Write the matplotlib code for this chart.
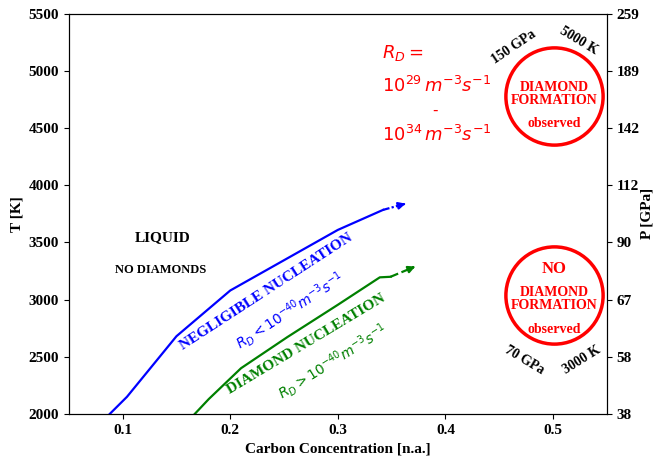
import matplotlib.pyplot as plt
import numpy as np

plt.rcParams['font.family'] = 'Liberation Serif'
plt.rcParams['mathtext.fontset'] = 'dejavusans'

# boundary curves
x_blue = [0.088, 0.104, 0.150, 0.200, 0.250, 0.300, 0.342]
t_blue = [2000, 2150, 2680, 3080, 3345, 3610, 3785]
x_green = [0.167, 0.180, 0.210, 0.253, 0.300, 0.339, 0.349]
t_green = [2000, 2130, 2400, 2672, 2955, 3195, 3200]

# extrapolation arrows (start -> end)
arrow_blue = [(0.342, 3785), (0.363, 3840)]
arrow_green = [(0.349, 3200), (0.372, 3290)]

# right axis (pressure) labels
t_ticks = [2000, 2500, 3000, 3500, 4000, 4500, 5000, 5500]
p_labels = ['38', '58', '67', '90', '112', '142', '189', '259']

# circles
circle_x = [0.501, 0.501]
circle_t = [4782, 3041]

fig = plt.figure(figsize=(6.56, 4.62), dpi=100)
ax = fig.add_axes([0.105, 0.104, 0.82, 0.866])

ax.plot(x_blue, t_blue, color='blue', lw=1.6)
ax.plot(x_green, t_green, color='green', lw=1.6)

for arr, col, ls in [(arrow_blue, 'blue', (0, (3, 1, 1, 1))), (arrow_green, 'green', '--')]:
    (x0, y0), (x1, y1) = arr
    ax.plot([x0, x0 + 0.85 * (x1 - x0)], [y0, y0 + 0.85 * (y1 - y0)], color=col, lw=1.6, ls=ls)
    ax.annotate('', xy=(x1, y1), xytext=(x0 + 0.8 * (x1 - x0), y0 + 0.8 * (y1 - y0)),
                arrowprops=dict(arrowstyle='-|>', color=col, lw=1.6, mutation_scale=10))

ax.plot(circle_x, circle_t, 'o', ms=70, mfc='none', mec='red', mew=2.5)

ax.set_xlim(0.05, 0.55)
ax.set_ylim(2000, 5500)
ax.set_xticks([0.1, 0.2, 0.3, 0.4, 0.5])
ax.set_yticks(t_ticks)
ax.tick_params(labelsize=11, direction='out')
ax.set_xlabel('Carbon Concentration [n.a.]', fontsize=11, fontweight='bold')
ax.set_ylabel('T [K]', fontsize=11, fontweight='bold')

ax2 = ax.twinx()
ax2.set_ylim(2000, 5500)
ax2.set_yticks(t_ticks)
ax2.set_yticklabels(p_labels)
ax2.tick_params(labelsize=11, direction='out')
ax2.set_ylabel('P [GPa]', fontsize=11, fontweight='bold', labelpad=1)

for lbl in ax.get_xticklabels() + ax.get_yticklabels() + ax2.get_yticklabels():
    lbl.set_fontweight('bold')

# region labels
ax.text(0.1375, 3540, 'LIQUID', fontsize=11, fontweight='bold', ha='center', va='center')
ax.text(0.135, 3260, 'NO DIAMONDS', fontsize=9, fontweight='bold', ha='center', va='center')
ax.text(0.233, 3067, 'NEGLIGIBLE NUCLEATION', color='blue', fontsize=11, fontweight='bold',
        rotation=33, ha='center', va='center', rotation_mode='anchor')
ax.text(0.2556, 2900, r'$R_D < 10^{-40} m^{-3}s^{-1}$', color='blue', fontsize=10,
        rotation=33, ha='center', va='center', rotation_mode='anchor')
ax.text(0.2705, 2612, 'DIAMOND NUCLEATION', color='green', fontsize=11, fontweight='bold',
        rotation=31, ha='center', va='center', rotation_mode='anchor')
ax.text(0.2947, 2455, r'$R_D > 10^{-40} m^{-3}s^{-1}$', color='green', fontsize=10,
        rotation=32, ha='center', va='center', rotation_mode='anchor')

# rate annotation
ax.text(0.341, 5160, r'$R_D =$', color='red', fontsize=13, ha='left', va='center')
ax.text(0.341, 4870, r'$10^{29}\,m^{-3}s^{-1}$', color='red', fontsize=13, ha='left', va='center')
ax.text(0.390, 4660, '-', color='red', fontsize=11, ha='center', va='center', family='DejaVu Sans')
ax.text(0.341, 4440, r'$10^{34}\,m^{-3}s^{-1}$', color='red', fontsize=13, ha='left', va='center')

# circle texts
for y, s, fs in [(4853, 'DIAMOND', 10), (4740, 'FORMATION', 10), (4545, 'observed', 10),
                 (3270, 'NO', 12), (3065, 'DIAMOND', 10), (2950, 'FORMATION', 10), (2740, 'observed', 10)]:
    ax.text(0.501, y, s, color='red', fontsize=fs, fontweight='bold', ha='center', va='center')

ax.text(0.464, 5211, '150 GPa', fontsize=10, fontweight='bold', rotation=34, ha='center', va='center')
ax.text(0.524, 5263, '5000 K', fontsize=10, fontweight='bold', rotation=-31, ha='center', va='center')
ax.text(0.473, 2472, '70 GPa', fontsize=10, fontweight='bold', rotation=-31, ha='center', va='center')
ax.text(0.527, 2472, '3000 K', fontsize=10, fontweight='bold', rotation=32, ha='center', va='center')

fig.savefig('out.png', dpi=100)
